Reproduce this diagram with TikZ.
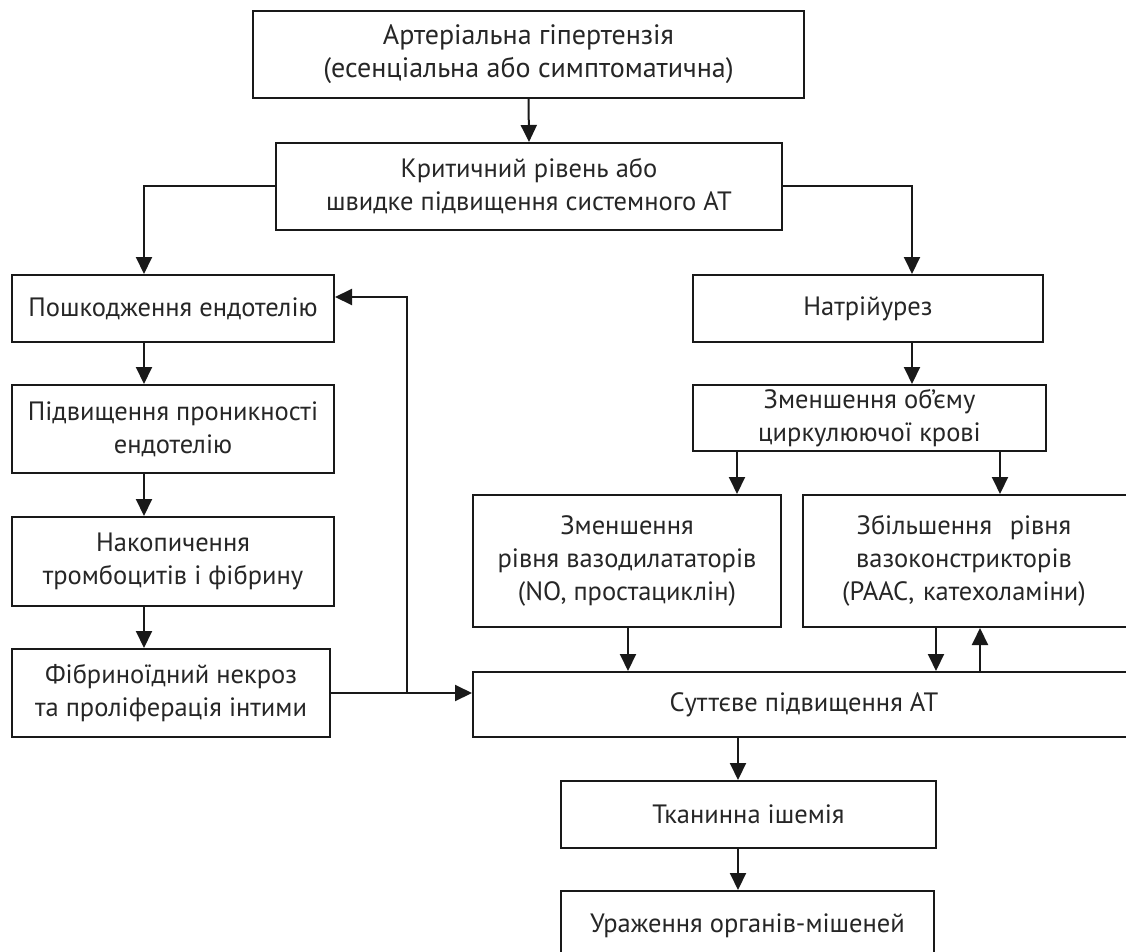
\documentclass[tikz,border=0pt]{standalone}
\usepackage{fontspec}
\setmainfont{PT Sans}
\usetikzlibrary{arrows.meta}
\begin{document}
\begin{tikzpicture}[x=1pt,y=-1pt,
  box/.style={draw=black!90, line width=2pt, inner sep=0pt, align=center,
    text=black!85, font=\fontsize{26.5}{33}\selectfont},
  bigtext/.style={font=\fontsize{28}{33}\selectfont},
  arr/.style={line width=2pt, draw=black!90, -{Triangle[length=17pt,width=16pt]}}]
\useasboundingbox (0,0) rectangle (1126,952);
\begin{scope}
\clip (0,0) rectangle (1126,952);
\node[box, bigtext, minimum width=551pt, minimum height=87pt] (b1) at (528.5,54.5)
  {Артеріальна гіпертензія\\(есенціальна або симптоматична)};
\node[box, minimum width=506pt, minimum height=87pt] (b2) at (529,186.5)
  {Критичний рівень або\\швидке підвищення системного АТ};
\node[box, minimum width=322pt, minimum height=67pt] (b3) at (173,308.5)
  {Пошкодження ендотелію};
\node[box, minimum width=350pt, minimum height=67pt] (b4) at (868,308.5)
  {Натрійурез};
\node[box, minimum width=322pt, minimum height=88pt] (b5) at (173,429)
  {Підвищення проникності\\ендотелію};
\node[box, minimum width=353pt, minimum height=66pt] (b6) at (869.5,418)
  {Зменшення об’єму\\циркулюючої крові};
\node[box, minimum width=322pt, minimum height=89pt] (b7) at (173,561.5)
  {Накопичення\\тромбоцитів і фібрину};
\node[box, minimum width=308pt, minimum height=132pt] (b8) at (627,561)
  {Зменшення\\рівня вазодилататорів\\(NO, простациклін)};
\node[box, minimum width=332pt, minimum height=132pt, text width=332pt] (b9) at (969,561)
  {\hspace*{-10pt}Збільшення\ \ рівня\\\hspace*{-10pt}вазоконстрикторів\\\hspace*{-10pt}(РААС, катехоламіни)};
\node[box, minimum width=318pt, minimum height=88pt] (b10) at (171,693)
  {Фібриноїдний некроз\\та проліферація інтими};
\node[box, minimum width=662pt, minimum height=65pt] (b11) at (804,704.5)
  {Суттєве підвищення АТ};
\node[box, minimum width=375pt, minimum height=67pt] (b12) at (748.5,814.5)
  {Тканинна ішемія};
\node[box, minimum width=373pt, minimum height=70pt] (b13) at (747.5,926)
  {Ураження органів-мішеней};

\coordinate (xl) at (144,0);
\coordinate (xr) at (912,0);
\coordinate (xa) at (737,0);
\coordinate (xb) at (1000,0);
\coordinate (xc) at (628,0);
\coordinate (xd) at (936,0);
\coordinate (xe) at (980,0);
\coordinate (xf) at (738,0);
\coordinate (fy) at (0,297);
\coordinate (fb) at (407,693);

\draw[arr] (b1.south) -- (b2.north);
\draw[arr] (b2.west) -| (b3.north -| xl);
\draw[arr] (b2.east) -| (b4.north -| xr);
\draw[arr] (b4.south -| xr) -- (b6.north -| xr);
\draw[arr] (b3.south -| xl) -- (b5.north -| xl);
\draw[arr] (b5.south -| xl) -- (b7.north -| xl);
\draw[arr] (b7.south -| xl) -- (b10.north -| xl);
\draw[arr] (b6.south -| xa) -- (b8.north -| xa);
\draw[arr] (b6.south -| xb) -- (b9.north -| xb);
\draw[arr] (b8.south -| xc) -- (b11.north -| xc);
\draw[arr] (b9.south -| xd) -- (b11.north -| xd);
\draw[arr] (b11.north -| xe) -- (b9.south -| xe);
\draw[arr] (b10.east) -- (b10.east -| b11.west);
\draw[arr] (fb) |- (b3.east |- fy);
\draw[arr] (b11.south -| xf) -- (b12.north -| xf);
\draw[arr] (b12.south -| xf) -- (b13.north -| xf);
\end{scope}
\end{tikzpicture}
\end{document}
